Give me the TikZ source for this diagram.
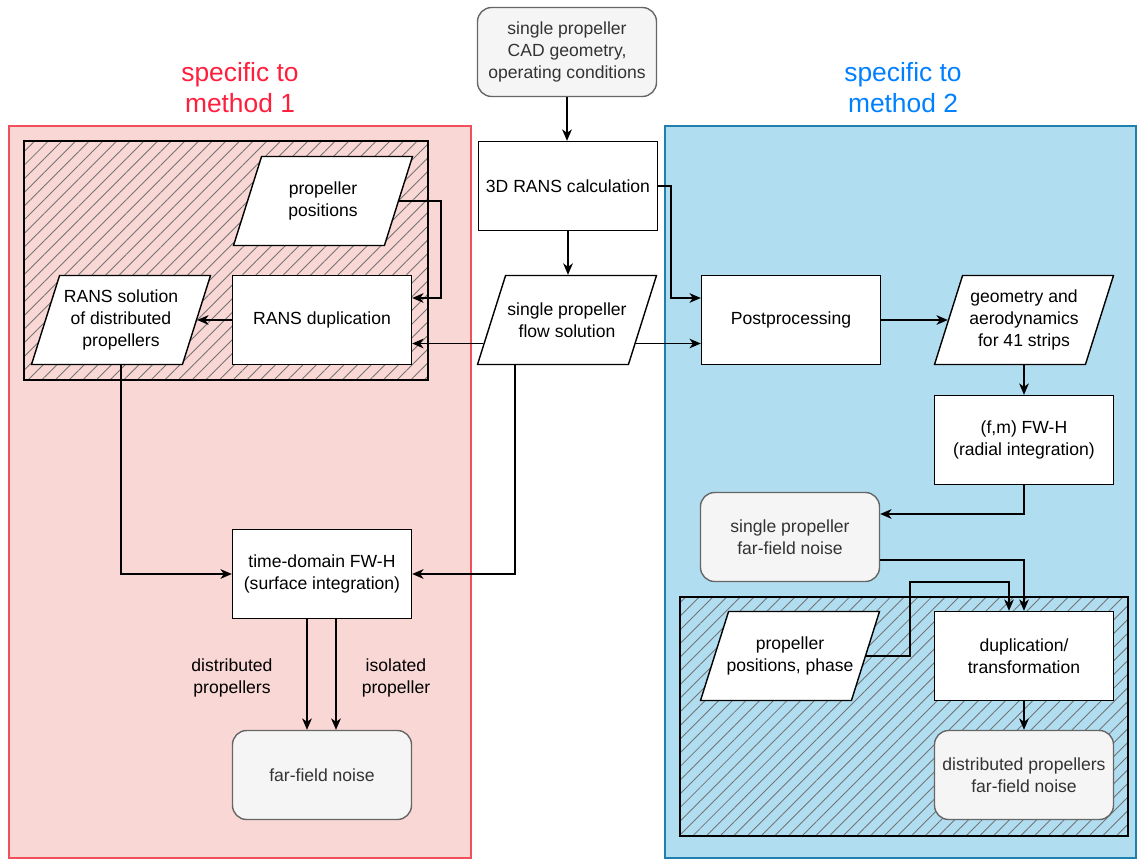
\documentclass[tikz,border=0pt]{standalone}
\usepackage{fontspec}
\setmainfont{Liberation Sans}
\usetikzlibrary{shapes.geometric,arrows.meta,patterns.meta,calc}

\definecolor{redfill}{RGB}{249,215,212}
\definecolor{redline}{RGB}{240,80,90}
\definecolor{redtext}{RGB}{255,30,60}
\definecolor{bluefill}{RGB}{177,221,240}
\definecolor{blueline}{RGB}{31,127,174}
\definecolor{bluetext}{RGB}{0,128,255}
\definecolor{termfill}{RGB}{245,245,245}
\definecolor{termline}{RGB}{102,102,102}
\definecolor{termtext}{RGB}{51,51,51}

\tikzset{
	txt/.style={align=center,font=\fontsize{10}{12.5}\selectfont},
	procbox/.style={txt,draw,fill=white,line width=0.8pt,minimum width=3.58cm,minimum height=1.78cm},
	termbox/.style={procbox,rounded corners=8pt,fill=termfill,draw=termline,text=termtext},
	databox/.style={trapezium,trapezium left angle=72.5,trapezium right angle=107.5,trapezium stretches body,
		draw,fill=white,line width=0.8pt,inner sep=0pt,text height=1.78cm,text depth=0pt,minimum width=3.58cm},
	hatch/.style={draw,line width=0.8pt,pattern={Lines[angle=45,distance=5.5pt,line width=0.5pt]},pattern color=black!55},
	title/.style={align=center,font=\fontsize{15}{17.6}\selectfont},
	conn/.style={draw,line width=0.9pt,->}
}

\begin{document}
\begin{tikzpicture}[x=0.02cm,y=-0.02cm,>={Stealth[length=6.5pt,width=5.5pt,inset=2pt]}]
	\useasboundingbox (0,0) rectangle (1137,859);

	% method regions
	\draw[fill=redfill,draw=redline,line width=0.8pt] (9,126) rectangle (471,858);
	\draw[fill=bluefill,draw=blueline,line width=0.8pt] (665,126) rectangle (1136,858);
	\node[title,text=redtext] (title1) at (240,88) {specific to\\method 1};
	\node[title,text=bluetext] (title2) at (903,88) {specific to\\method 2};
	\draw[hatch] (24,141) rectangle (428,380);
	\draw[hatch] (680,597) rectangle (1128,836);

	% common part
	\node[termbox] (cad) at (567,52) {single propeller\\CAD geometry,\\operating conditions};
	\node[procbox] (rans3d) at (568,186) {3D RANS calculation};
	\node[databox,label={[txt]center:{single propeller\\flow solution}}] (flowsol) at (567,320) {};

	% method 1
	\node[databox,label={[txt]center:{propeller\\positions}}] (posl) at (323,201) {};
	\node[procbox] (ransdup) at (322,320) {RANS duplication};
	\node[databox,label={[txt]center:{RANS solution\\of distributed\\propellers}}] (ranssol) at (121,320) {};
	\node[procbox] (fwhtd) at (322,574) {time-domain FW-H\\(surface integration)};
	\node[termbox] (far) at (322,775) {far-field noise};
	\node[txt] (lbldist) at (232,678) {distributed\\propellers};
	\node[txt] (lbliso) at (396,678) {isolated\\propeller};

	% method 2
	\node[procbox] (post) at (791,320) {Postprocessing};
	\node[databox,label={[txt]center:{geometry and\\aerodynamics\\for 41 strips}}] (strips) at (1024,320) {};
	\node[procbox] (fwhfm) at (1024,440) {(f,m) FW-H\\(radial integration)};
	\node[termbox] (sfar) at (790,537) {single propeller\\far-field noise};
	\node[databox,label={[txt]center:{propeller\\positions, phase}}] (pospha) at (790,656) {};
	\node[procbox] (dupl) at (1024,656) {duplication/\\transformation};
	\node[termbox] (dfar) at (1024,775) {distributed propellers\\far-field noise};

	% connectors
	\draw[conn] (cad.south) -- (cad.south |- rans3d.north);
	\draw[conn] (rans3d.south) -- (rans3d.south |- flowsol.north);
	\draw[conn] (rans3d.east) -- ++(13,0) |- ($(post.west)+(0,-22)$);
	\coordinate (fsr) at ($(flowsol.bottom right corner)!0.24!(flowsol.top right corner)$);
	\coordinate (fsl) at ($(flowsol.bottom left corner)!0.24!(flowsol.top left corner)$);
	\draw[conn] (fsr) -- (fsr -| post.west);
	\draw[conn] (fsl) -- (fsl -| ransdup.east);
	\draw[conn] ($(flowsol.bottom left corner)+(38.5,0)$) |- (fwhtd.east);
	\draw[conn] (posl.east) -- ++(42,0) |- ($(ransdup.east)+(0,-22)$);
	\draw[conn] (ransdup.west) -- (ranssol.east);
	\draw[conn] (ranssol.center |- ranssol.south) |- (fwhtd.west);
	\draw[conn] ($(fwhtd.south)+(-15,0)$) -- ($(far.north)+(-15,0)$);
	\draw[conn] ($(fwhtd.south)+(14,0)$) -- ($(far.north)+(14,0)$);
	\draw[conn] (post.east) -- (strips.west);
	\draw[conn] (strips.center |- strips.south) -- (fwhfm.north);
	\draw[conn] (fwhfm.south) |- ($(sfar.east)+(0,-23)$);
	\draw[conn] ($(sfar.east)+(0,23)$) -| (dupl.north);
	\draw[conn] (pospha.east) -- ++(44,0) -- ++(0,-74) -| ($(dupl.north)+(-15,0)$);
	\draw[conn] (dupl.south) -- (dfar.north);
\end{tikzpicture}
\end{document}
